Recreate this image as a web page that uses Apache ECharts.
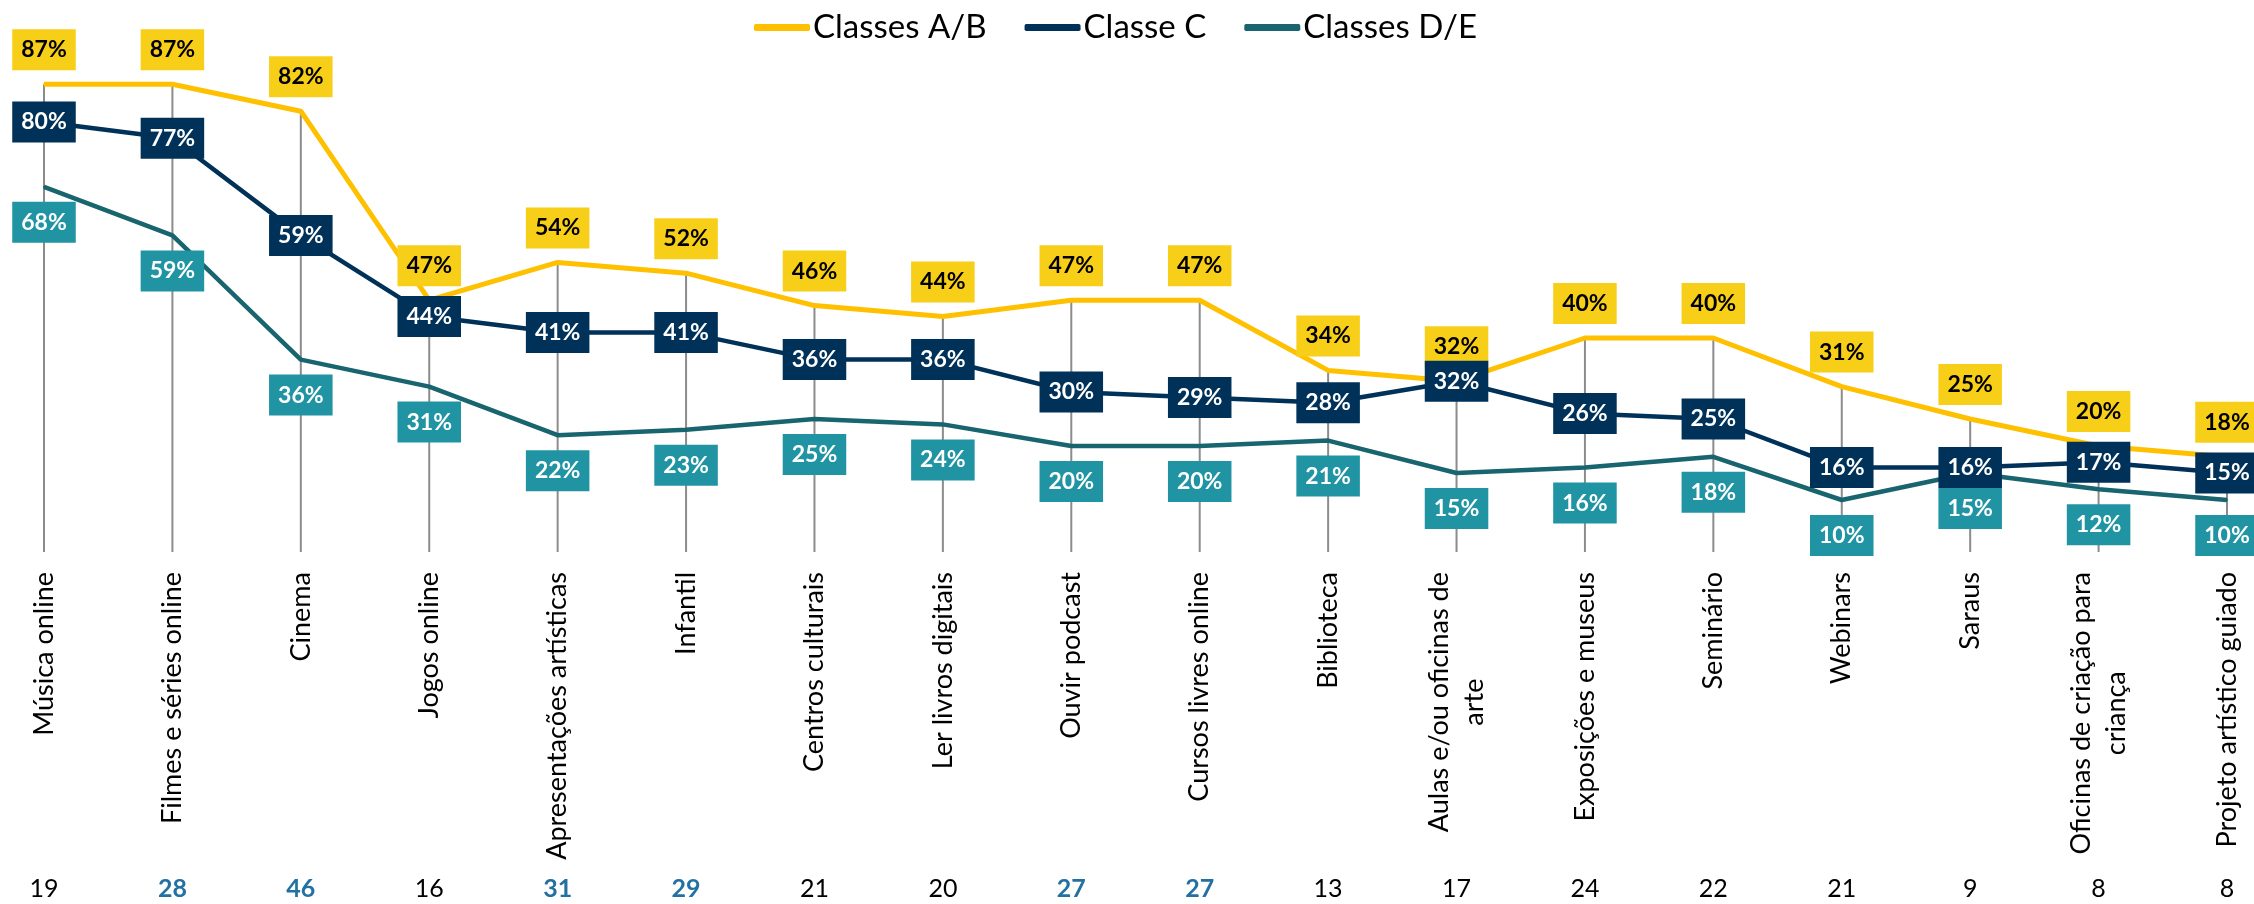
<!DOCTYPE html>
<html>
<head>
<meta charset="utf-8">
<script src="https://cdn.jsdelivr.net/npm/echarts@6/dist/echarts.min.js"></script>
<style>
  html, body { margin: 0; padding: 0; background: #fff; }
  #chart { width: 2254px; height: 904px; }
</style>
</head>
<body>
<div id="chart"></div>
<script>
// categorias (eixo x)
var categorias = ['Música online', 'Filmes e séries online', 'Cinema', 'Jogos online',
  'Apresentações artísticas', 'Infantil', 'Centros culturais', 'Ler livros digitais',
  'Ouvir podcast', 'Cursos livres online', 'Biblioteca', 'Aulas e/ou oficinas de\narte',
  'Exposições e museus', 'Seminário', 'Webinars', 'Saraus',
  'Oficinas de criação para\ncriança', 'Projeto artístico guiado']

// valores por classe (%)
var classesAB = [87, 87, 82, 47, 54, 52, 46, 44, 47, 47, 34, 32, 40, 40, 31, 25, 20, 18]
var classeC = [80, 77, 59, 44, 41, 41, 36, 36, 30, 29, 28, 32, 26, 25, 16, 16, 17, 15]
var classesDE = [68, 59, 36, 31, 22, 23, 25, 24, 20, 20, 21, 15, 16, 18, 10, 15, 12, 10]

// linha de baixo: números e destaque (negrito azul)
var numeros = [19, 28, 46, 16, 31, 29, 21, 20, 27, 27, 13, 17, 24, 22, 21, 9, 8, 8]
var destaque = [0, 1, 1, 0, 1, 1, 0, 0, 1, 1, 0, 0, 0, 0, 0, 0, 0, 0]

var FONT = 'Lato'

var chart = echarts.init(document.getElementById('chart'))

var quedas = categorias.map(function (c, i) {
  return [i, Math.max(classesAB[i], classeC[i], classesDE[i])]
})

var eixoNumeros = numeros.map(function (n, i) {
  return destaque[i]
    ? { value: String(n), textStyle: { fontWeight: 'bold', color: '#2371a2' } }
    : { value: String(n) }
})

function rotulo(cor, fundo, pos, dist) {
  return {
    show: true,
    position: pos,
    distance: dist,
    formatter: '{c}%',
    color: cor,
    backgroundColor: fundo,
    fontFamily: FONT,
    fontWeight: 'bold',
    fontSize: 23,
    lineHeight: 25,
    padding: [8, 9, 8, 9]
  }
}

chart.setOption({
  animation: false,
  legend: {
    data: ['Classes A/B', 'Classe C', 'Classes D/E'],
    left: 749,
    top: 6,
    icon: 'roundRect',
    itemWidth: 56,
    itemHeight: 7,
    itemGap: 38,
    textStyle: { fontFamily: FONT, fontSize: 33, color: '#000', padding: [0, 0, 0, -2] }
  },
  grid: {
    left: 44,
    right: 27,
    top: 14,
    bottom: 350
  },
  xAxis: [{
    type: 'category',
    data: categorias,
    boundaryGap: false,
    axisLine: { show: false },
    axisTick: { show: false },
    axisLabel: {
      interval: 0,
      rotate: 90,
      margin: 18,
      formatter: function (v) {
        return v.split('\n').map(function (s) { return '{c|' + s + '}' }).join('\n')
      },
      rich: {
        c: { align: 'center', fontFamily: FONT, fontSize: 27, color: '#000', lineHeight: 35 }
      }
    }
  }, {
    type: 'category',
    data: eixoNumeros,
    boundaryGap: false,
    position: 'bottom',
    axisLine: { show: false },
    axisTick: { show: false },
    axisLabel: {
      interval: 0,
      margin: 322,
      fontFamily: FONT,
      fontSize: 25,
      color: '#000'
    }
  }],
  yAxis: {
    type: 'value',
    min: 0,
    max: 100,
    show: false
  },
  series: [{
    type: 'custom',
    name: 'quedas',
    z: 1,
    silent: true,
    data: quedas,
    renderItem: function (params, api) {
      var topo = api.coord([api.value(0), api.value(1)])
      var base = api.coord([api.value(0), 0])
      return {
        type: 'line',
        shape: { x1: topo[0], y1: topo[1], x2: base[0], y2: base[1] - 2 },
        style: { stroke: '#8c8c8c', lineWidth: 2 }
      }
    }
  }, {
    name: 'Classes D/E',
    type: 'line',
    z: 2,
    data: classesDE,
    symbol: 'circle',
    symbolSize: 2,
    itemStyle: { color: '#18646f' },
    lineStyle: { color: '#18646f', width: 4.5 },
    label: rotulo('#fff', '#2194a4', 'bottom', 14)
  }, {
    name: 'Classes A/B',
    type: 'line',
    z: 3,
    data: classesAB,
    symbol: 'circle',
    symbolSize: 2,
    itemStyle: { color: '#ffc000' },
    lineStyle: { color: '#ffc000', width: 5 },
    label: rotulo('#000', '#f8cf18', 'top', 13)
  }, {
    name: 'Classe C',
    type: 'line',
    z: 4,
    data: classeC,
    symbol: 'circle',
    symbolSize: 2,
    itemStyle: { color: '#003158' },
    lineStyle: { color: '#003158', width: 4.5 },
    label: rotulo('#fff', '#003158', 'inside', 0)
  }]
})
</script>
</body>
</html>
